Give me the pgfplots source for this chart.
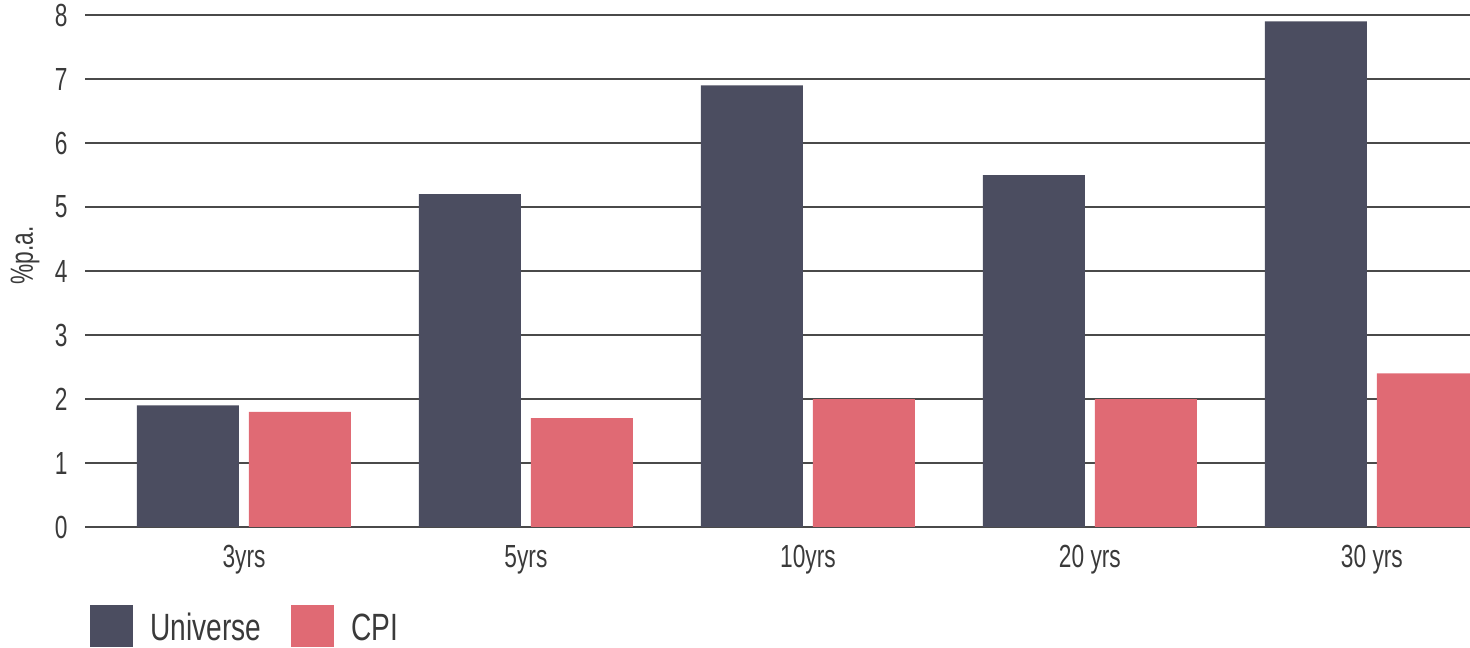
\documentclass[border=0pt]{standalone}
\usepackage{pgfplots}
\pgfplotsset{compat=1.18}
\usepackage{fontspec}
\setmainfont{Liberation Sans}[FakeStretch=0.71]
\newfontfamily\legendfont{Liberation Sans}[FakeStretch=0.74]
\definecolor{universe}{HTML}{4B4D60}
\definecolor{cpi}{HTML}{E06A74}
\definecolor{txt}{HTML}{3A3A3A}
\definecolor{gridc}{HTML}{4A4A4A}

\begin{document}
\begin{tikzpicture}
\useasboundingbox (0pt,0pt) rectangle (735pt,323.5pt);
\begin{axis}[
  at={(42.5pt,60pt)}, anchor=south west,
  scale only axis,
  width=692.5pt, height=256pt,
  xmin=-0.5638, xmax=4.348,
  ymin=0, ymax=8,
  ytick={0,1,...,8},
  xtick={0,1,2,3,4},
  xticklabels={3yrs,5yrs,10yrs,20 yrs,30 yrs},
  axis line style={draw=none},
  major tick length=0pt,
  ymajorgrids,
  major grid style={line width=1pt, color=gridc},
  tick label style={font=\fontsize{16}{17}\selectfont, text=txt},
  /pgf/number format/assume math mode=true,
  yticklabel style={anchor=east, inner sep=0pt, xshift=-8.5pt},
  xticklabel style={anchor=center, inner sep=0pt, yshift=-16.5pt},
  ylabel={\%p.a.},
  ylabel style={at={(axis description cs:-0.0433,0.53)}, rotate=0, anchor=center,
    font=\fontsize{16}{17}\selectfont, text=txt},
  ybar, bar width=51pt,
  clip=true,
  legend columns=2,
  legend style={at={(axis description cs:0,0)}, anchor=north west,
    xshift=2.5pt, yshift=-39pt, draw=none, fill=none, inner sep=0pt,
    font=\legendfont\fontsize{19}{20}\selectfont, text=txt,
    /tikz/every even column/.append style={column sep=15pt},
    nodes={inner sep=0pt, anchor=west}},
  legend image code/.code={\fill[#1] (0pt,-10.5pt) rectangle (21.5pt,10.5pt);},
]
\addplot+[bar shift=-28pt, fill=universe, draw=none] coordinates
  {(0,1.9) (1,5.2) (2,6.9) (3,5.5) (4,7.9)};
\addlegendentry{\hspace{8.5pt}\raisebox{-2pt}{Universe}}
\addplot+[bar shift=28pt, fill=cpi, draw=none] coordinates
  {(0,1.8) (1,1.7) (2,2.0) (3,2.0) (4,2.4)};
\addlegendentry{\hspace{8.5pt}\raisebox{-2pt}{CPI}}
\end{axis}
\end{tikzpicture}
\end{document}
